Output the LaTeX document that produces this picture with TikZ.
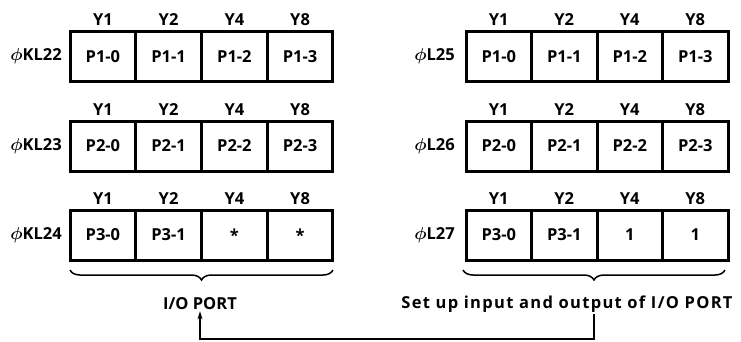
\documentclass[tikz,border=0pt]{standalone}
\usepackage{amsmath}
\usepackage{fontspec}
\setmainfont{Open Sans}
\usetikzlibrary{positioning,decorations.pathreplacing,arrows.meta}

\tikzset{
  cell/.style={draw,line width=3pt,minimum width=65.6pt,minimum height=50pt,inner sep=0pt,font=\fontsize{16.5}{18}\selectfont\bfseries},
  bitlabel/.style={font=\fontsize{16.5}{18}\selectfont\bfseries,inner sep=1pt},
  reglabel/.style={font=\fontsize{16.5}{18}\selectfont\bfseries,inner sep=0pt,anchor=east},
  portbrace/.style={decorate,decoration={brace,amplitude=10pt,raise=0pt},line width=1.5pt},
  note/.style={font=\fontsize{16.5}{18}\selectfont\bfseries,inner sep=1pt}
}

\begin{document}
\begin{tikzpicture}[x=1pt,y=-1pt]
\path[use as bounding box] (0,0) rectangle (741,341);

% left registers
\foreach \r/\yy/\reg/\a/\b/\c/\d in {1/56.5/KL22/P1-0/P1-1/P1-2/P1-3,
                                      2/146/KL23/P2-0/P2-1/P2-2/P2-3,
                                      3/235/KL24/P3-0/P3-1/*/*}{
  \node[cell] (l\r c1) at (102.9,\yy) {\a};
  \node[cell] (l\r c2) at (168.6,\yy) {\b};
  \node[cell] (l\r c3) at (234.4,\yy) {\c};
  \node[cell] (l\r c4) at (300.1,\yy) {\d};
  \node[reglabel] (l\r name) at (62,\yy) {$\boldsymbol{\phi}$\reg};
  \foreach \i/\w in {1/Y1,2/Y2,3/Y4,4/Y8}
    \node[bitlabel,above=3pt of l\r c\i] (l\r y\i) {\w};
}

% right registers
\foreach \r/\yy/\reg/\a/\b/\c/\d in {1/56.5/L25/P1-0/P1-1/P1-2/P1-3,
                                      2/146/L26/P2-0/P2-1/P2-2/P2-3,
                                      3/235/L27/P3-0/P3-1/1/1}{
  \node[cell] (r\r c1) at (498.8,\yy) {\a};
  \node[cell] (r\r c2) at (564.3,\yy) {\b};
  \node[cell] (r\r c3) at (629.8,\yy) {\c};
  \node[cell] (r\r c4) at (695.3,\yy) {\d};
  \node[reglabel] (r\r name) at (455,\yy) {$\boldsymbol{\phi}$\reg};
  \foreach \i/\w in {1/Y1,2/Y2,3/Y4,4/Y8}
    \node[bitlabel,above=3pt of r\r c\i] (r\r y\i) {\w};
}

% braces
\draw[portbrace] (333,270) -- (70,270);
\draw[portbrace] (725,270) -- (463,270);
\coordinate (ltip) at (201.5,285);
\coordinate (rtip) at (594,285);

\node[note] (ioport) at (200,304) {I/O PORT};
\node[note] (setup) at (567,304) {\addfontfeatures{LetterSpace=8}Set up input and output of I/O PORT};
\coordinate (bend) at (594,339);

\draw[line width=1.3pt,-{Stealth[length=8pt,width=5pt]}] (setup.south -| rtip) -- (bend) -| (ioport.south);
\end{tikzpicture}
\end{document}
